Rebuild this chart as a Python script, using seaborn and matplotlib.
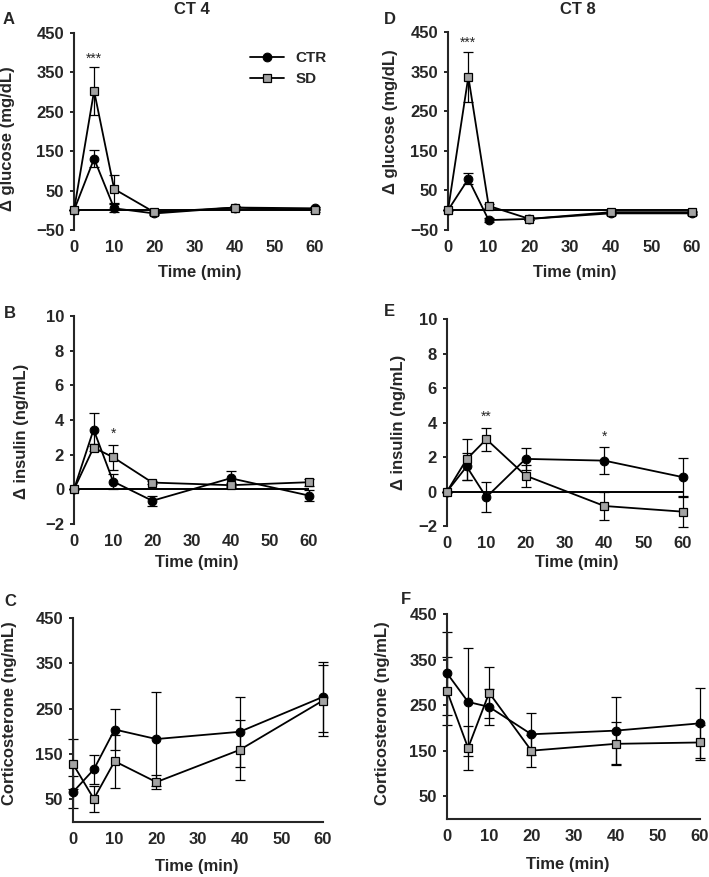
import matplotlib
matplotlib.use("Agg")
import matplotlib.pyplot as plt
import seaborn as sns

# ---- data (means and SEM) ----
time = [0, 5, 10, 20, 40, 60]

glu_ct4_ctr = [0, 131, 5, -8, 7, 5]
glu_ct4_ctr_err = [0, 21, 10, 4, 5, 4]
glu_ct4_sd = [0, 303, 54, -5, 7, 0]
glu_ct4_sd_err = [0, 60, 36, 4, 5, 4]

ins_ct4_ctr = [0, 3.45, 0.45, -0.66, 0.64, -0.36]
ins_ct4_ctr_err = [0, 0.95, 0.45, 0.3, 0.44, 0.3]
ins_ct4_sd = [0, 2.41, 1.85, 0.39, 0.24, 0.41]
ins_ct4_sd_err = [0, 0.2, 0.72, 0.1, 0.1, 0.2]

cort_ct4_ctr = [66, 116, 204, 183, 199, 276]
cort_ct4_ctr_err = [35, 32, 46, 104, 77, 77]
cort_ct4_sd = [128, 51, 134, 88, 159, 268]
cort_ct4_sd_err = [56, 28, 59, 15, 67, 78]

glu_ct8_ctr = [0, 79, -25, -22, -8, -8]
glu_ct8_ctr_err = [0, 14, 5, 4, 4, 4]
glu_ct8_sd = [0, 337, 11, -22, -5, -5]
glu_ct8_sd_err = [0, 63, 5, 4, 4, 4]

ins_ct8_ctr = [0, 1.45, -0.33, 1.89, 1.79, 0.83]
ins_ct8_ctr_err = [0, 0.78, 0.88, 0.62, 0.8, 1.1]
ins_ct8_sd = [0, 1.87, 3.03, 0.92, -0.84, -1.17]
ins_ct8_sd_err = [0, 1.18, 0.68, 0.64, 0.81, 0.87]

cort_ct8_ctr = [320, 257, 246, 186, 194, 210]
cort_ct8_ctr_err = [91, 118, 40, 46, 73, 77]
cort_ct8_sd = [281, 156, 277, 150, 165, 168]
cort_ct8_sd_err = [74, 48, 56, 35, 47, 39]

sns.set_style("ticks")
plt.rcParams["font.family"] = ["Liberation Sans", "DejaVu Sans"]
plt.rcParams["font.weight"] = "bold"

W, H = 709, 877
fig = plt.figure(figsize=(W / 100, H / 100), dpi=100)
GRAY = "#a3a3a3"
TICK_FS = 12
LABEL_FS = 12


def px_axes(x0, x1, ytop, ybot):
    return fig.add_axes([x0 / W, 1 - ybot / H, (x1 - x0) / W, (ybot - ytop) / H])


def draw_panel(ax, ctr, ctr_err, sd, sd_err, ylim, yticks, zero_line):
    ax.errorbar(time, ctr, yerr=ctr_err, fmt="none", ecolor="black",
                elinewidth=0.9, capsize=3.5, capthick=0.9, clip_on=False, zorder=2)
    ax.errorbar(time, sd, yerr=sd_err, fmt="none", ecolor="black",
                elinewidth=0.9, capsize=3.5, capthick=0.9, clip_on=False, zorder=2)
    sns.lineplot(x=time, y=ctr, ax=ax, color="black", lw=1.3, marker="o",
                 markersize=6.3, markerfacecolor="black", markeredgecolor="black",
                 errorbar=None, clip_on=False, zorder=4, label="CTR")
    sns.lineplot(x=time, y=sd, ax=ax, color="black", lw=1.3, marker="s",
                 markersize=6.3, markerfacecolor=GRAY, markeredgecolor="black",
                 markeredgewidth=0.9, errorbar=None, clip_on=False, zorder=5, label="SD")
    if ax.get_legend() is not None:
        ax.get_legend().remove()
    ax.set_xlim(0, 60)
    ax.set_ylim(*ylim)
    ax.set_xticks([0, 10, 20, 30, 40, 50, 60])
    ax.set_yticks(yticks)
    ax.tick_params(axis="x", length=0, pad=7, labelsize=TICK_FS)
    ax.tick_params(axis="y", length=3.2, width=1.4, pad=4, labelsize=TICK_FS, direction="out")
    for lab in ax.get_xticklabels() + ax.get_yticklabels():
        lab.set_fontweight("bold")
    sns.despine(ax=ax, top=True, right=True)
    ax.spines["left"].set_linewidth(1.5)
    ax.spines["bottom"].set_linewidth(1.5)
    if zero_line:
        ax.spines["bottom"].set_visible(False)
        ax.axhline(0, color="black", lw=1.4, zorder=3)
    ax.set_xlabel("")
    ax.set_ylabel("")
    return ax


# panel boxes in pixels: x of t=0, x of t=60, top, bottom
axA = px_axes(74, 315, 33, 230)
axB = px_axes(74, 309, 316, 524)
axC = px_axes(73, 323, 618, 822)
axD = px_axes(448, 692, 32, 230)
axE = px_axes(447, 683, 319, 526)
axF = px_axes(447, 700, 614, 819)

draw_panel(axA, glu_ct4_ctr, glu_ct4_ctr_err, glu_ct4_sd, glu_ct4_sd_err,
           (-50, 450), range(-50, 451, 100), True)
draw_panel(axB, ins_ct4_ctr, ins_ct4_ctr_err, ins_ct4_sd, ins_ct4_sd_err,
           (-2, 10), range(-2, 11, 2), True)
draw_panel(axC, cort_ct4_ctr, cort_ct4_ctr_err, cort_ct4_sd, cort_ct4_sd_err,
           (0, 450), range(50, 451, 100), False)
draw_panel(axD, glu_ct8_ctr, glu_ct8_ctr_err, glu_ct8_sd, glu_ct8_sd_err,
           (-50, 450), range(-50, 451, 100), True)
draw_panel(axE, ins_ct8_ctr, ins_ct8_ctr_err, ins_ct8_sd, ins_ct8_sd_err,
           (-2, 10), range(-2, 11, 2), True)
draw_panel(axF, cort_ct8_ctr, cort_ct8_ctr_err, cort_ct8_sd, cort_ct8_sd_err,
           (0, 450), range(50, 451, 100), False)

# significance marks
star_kw = dict(ha="center", va="center", fontsize=10, fontweight="normal")
axA.text(5, 385, "***", **star_kw)
axD.text(5, 422, "***", **star_kw)
axB.text(10, 3.2, "*", **star_kw)
axE.text(10, 4.35, "**", **star_kw)
axE.text(40, 3.2, "*", **star_kw)

# legend in panel A
handles, labels = axA.get_legend_handles_labels()
axA.legend(handles[:2], labels[:2], loc="upper left", bbox_to_anchor=(0.70, 0.945),
           frameon=False, borderpad=0, handlelength=2.2, handletextpad=0.75,
           labelspacing=0.45, prop={"weight": "bold", "size": 11})


def ftext(x, y, s, **kw):
    fig.text(x / W, 1 - y / H, s, ha=kw.pop("ha", "center"), va=kw.pop("va", "center"),
             fontweight="bold", **kw)


# titles and panel letters
ftext(192, 10, "CT 4", fontsize=12)
ftext(578, 10, "CT 8", fontsize=12)
for letter, x, y in [("A", 3, 20), ("B", 4, 313), ("C", 4, 602),
                     ("D", 384, 20), ("E", 384, 311), ("F", 401, 600)]:
    ftext(x, y, letter, fontsize=12, ha="left")

# axis labels
for x, y, s in [(8, 139, "Δ glucose (mg/dL)"), (390, 122, "Δ glucose (mg/dL)"),
                (22, 431, "Δ insulin (ng/mL)"), (398, 422, "Δ insulin (ng/mL)"),
                (10, 713, "Corticosterone (ng/mL)"), (382, 713, "Corticosterone (ng/mL)")]:
    ftext(x, y, s, fontsize=LABEL_FS, rotation=90)
for x, y in [(200, 272), (575, 273), (197, 563), (577, 563), (197, 866), (568, 865)]:
    ftext(x, y, "Time (min)", fontsize=LABEL_FS)

fig.savefig("out.png", dpi=100)
